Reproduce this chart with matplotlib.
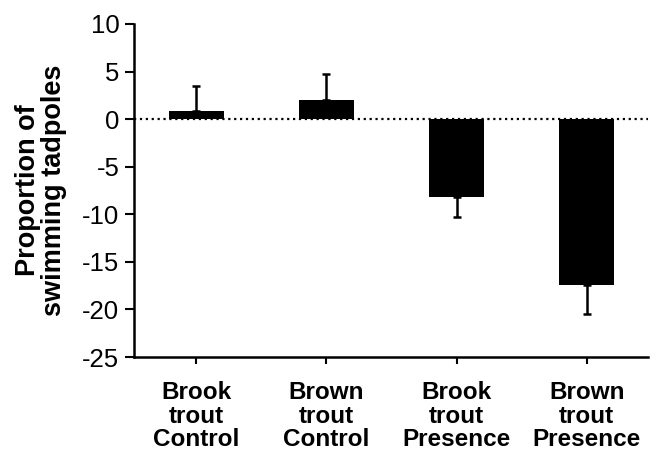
import matplotlib.pyplot as plt
import numpy as np

plt.rcParams['font.family'] = ['Liberation Sans', 'DejaVu Sans']
plt.rcParams['axes.unicode_minus'] = False

labels = ["Brook\ntrout\nControl", "Brown\ntrout\nControl", "Brook\ntrout\nPresence", "Brown\ntrout\nPresence"]
means = [0.85, 2.05, -8.2, -17.4]
errs = [2.65, 2.65, 2.05, 3.05]

x = np.arange(len(means))
fig = plt.figure(figsize=(6.61, 4.57), dpi=100)
ax = fig.add_axes([0.2027, 0.2188, 0.7773, 0.7287])

ax.axhline(0, color='black', linestyle=':', linewidth=1.6, zorder=1)
ax.bar(x, means, width=0.42, color='black', zorder=2)
# error bars only on the outward side
lower = [0 if m > 0 else e for m, e in zip(means, errs)]
upper = [e if m > 0 else 0 for m, e in zip(means, errs)]
ax.errorbar(x, means, yerr=[lower, upper], fmt='none', ecolor='black',
            elinewidth=1.8, capsize=3, capthick=1.8, zorder=3)

ax.set_xlim(-0.48, 3.47)
ax.set_ylim(-25, 10)
ax.set_yticks(np.arange(-25, 11, 5))
ax.set_xticks(x)
ax.set_xticklabels(labels, fontsize=17.5, fontweight='bold', linespacing=1.05)
ax.tick_params(axis='y', labelsize=18.5, width=1.5, length=6.5, direction='out', pad=4)
ax.tick_params(axis='x', width=1.5, length=5, direction='out', pad=12)
ax.set_ylabel("Proportion of\nswimming tadpoles", fontsize=19.5, fontweight='bold',
              linespacing=1.0, labelpad=11)
for s in ['top', 'right']:
    ax.spines[s].set_visible(False)
for s in ['left', 'bottom']:
    ax.spines[s].set_linewidth(1.8)

fig.savefig("out.png", dpi=100)
